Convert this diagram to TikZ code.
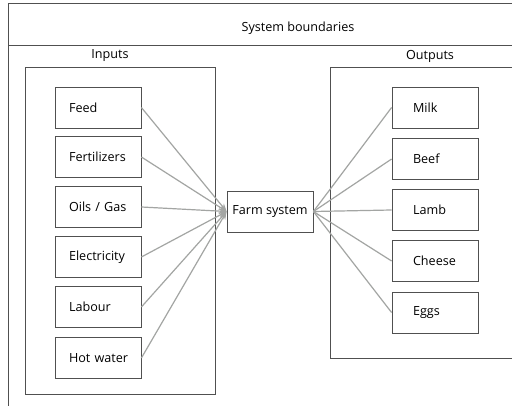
\documentclass[tikz,border=0pt]{standalone}
\usepackage{fontspec}
\setmainfont{Open Sans}
\usetikzlibrary{arrows.meta}
\definecolor{boxline}{HTML}{505050}
\definecolor{conn}{HTML}{A3A5A3}
\begin{document}
\begin{tikzpicture}[x=1pt,y=-1pt,
  every node/.style={font=\fontsize{12.6}{14}\selectfont},
  frame/.style={draw=boxline, line width=0.8pt},
  inbox/.style={draw=boxline, line width=0.8pt, minimum height=41pt, text width=72pt, inner xsep=7pt, align=left, execute at begin node=\hspace*{7pt}},
  outbox/.style={draw=boxline, line width=0.8pt, minimum height=41pt, text width=72pt, inner xsep=7pt, align=left, execute at begin node=\hspace*{14pt}},
  farmbox/.style={draw=boxline, line width=0.8pt, minimum height=41pt, minimum width=86pt, inner xsep=2pt},
  inarrow/.style={draw=conn, line width=1.2pt, -{Stealth[length=8pt,width=6pt]}},
  outline/.style={draw=conn, line width=1.2pt},
  lbl/.style={inner sep=0pt}
]
\useasboundingbox (0,0) rectangle (512,406);
\clip (0,0) rectangle (512,406);
\fill[white] (0,0) rectangle (512,406);
% system boundary
\draw[frame, line width=1pt] (8,410) -- (8,4) -- (520,4);
\draw[frame, line width=1pt] (8,46) -- (520,46);
\node[lbl] (sb) at (298,28) {System boundaries};
% containers
\draw[frame] (25,67) rectangle (215,394);
\draw[frame] (330,67) rectangle (530,358);
\node[lbl] (inl) at (110,56) {Inputs};
\node[lbl] (outl) at (430,56) {Outputs};
% inputs
\node[inbox] (feed) at (98,107.5) {Feed};
\node[inbox] (fert) at (98,157) {Fertilizers};
\node[inbox] (oils) at (98,207) {Oils / Gas};
\node[inbox] (elec) at (98,257) {Electricity};
\node[inbox] (lab) at (98,307) {Labour};
\node[inbox] (hot) at (98,358) {Hot water};
% farm
\node[farmbox] (farm) at (270,211.5) {Farm system};
% outputs
\node[outbox] (milk) at (435,107.5) {Milk};
\node[outbox] (beef) at (435,159) {Beef};
\node[outbox] (lamb) at (435,210) {Lamb};
\node[outbox] (chee) at (435,261) {Cheese};
\node[outbox] (eggs) at (435,312.5) {Eggs};
% connectors
\foreach \n in {feed,fert,oils,elec,lab,hot}
  \draw[inarrow] (\n.east) -- (farm.west);
\foreach \n in {milk,beef,lamb,chee,eggs}
  \draw[outline] (farm.east) -- (\n.west);
\end{tikzpicture}
\end{document}
